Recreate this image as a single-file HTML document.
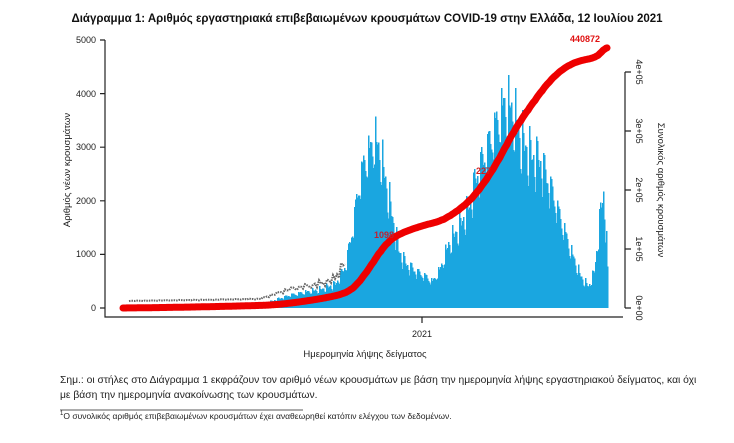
<!DOCTYPE html>
<html><head><meta charset="utf-8"><style>
body{margin:0;background:#fff;width:734px;height:443px;overflow:hidden;font-family:"Liberation Sans",sans-serif}
svg{position:absolute;left:0;top:0}
.t{position:absolute;color:#222;white-space:nowrap}
</style></head><body>
<svg width="734" height="443" id="s" xmlns="http://www.w3.org/2000/svg">
<text x="367" y="22" text-anchor="middle" font-size="11.5" font-weight="bold" fill="#111">Διάγραμμα 1: Αριθμός εργαστηριακά επιβεβαιωμένων κρουσμάτων COVID-19 στην Ελλάδα, 12 Ιουλίου 2021</text>
<g id="bars" fill="#1aa6e0" shape-rendering="crispEdges"></g>
<polyline id="gray" fill="none" stroke="#666" stroke-width="2" stroke-dasharray="1.5 1"/>
<polyline id="cum" fill="none" stroke="#ee0000" stroke-width="7" stroke-linecap="round" stroke-linejoin="round"/>
<g stroke="#222" stroke-width="1.2" fill="none">
<path d="M105 40V317H623"/>
<path d="M100 40H105M100 93.6H105M100 147.2H105M100 200.8H105M100 254.4H105M100 308H105"/>
<path d="M422 317V323"/>
<path d="M625 72V308M625 72H631M625 131H631M625 190H631M625 249H631M625 308H631"/>
</g>
<g font-size="9" fill="#222" text-anchor="end">
<text x="96" y="43">5000</text><text x="96" y="97">4000</text><text x="96" y="150">3000</text><text x="96" y="204">2000</text><text x="96" y="257">1000</text><text x="96" y="311">0</text>
</g>
<g font-size="9" fill="#222" text-anchor="middle">
<text transform="translate(636,72) rotate(90)">4e+05</text>
<text transform="translate(636,131) rotate(90)">3e+05</text>
<text transform="translate(636,190) rotate(90)">2e+05</text>
<text transform="translate(636,249) rotate(90)">1e+05</text>
<text transform="translate(636,308) rotate(90)">0e+00</text>
<text transform="translate(658,190) rotate(90)" font-size="9.5">Συνολικός αριθμός κρουσμάτων</text>
<text transform="translate(70,170) rotate(-90)" font-size="9.5">Αριθμός νέων κρουσμάτων</text>
<text x="422" y="337" font-size="9">2021</text>
<text x="365" y="357" font-size="9.5">Ημερομηνία λήψης δείγματος</text>
</g>
<g font-size="9" font-weight="bold" fill="#e01010">
<text x="570" y="42">440872</text>
<text x="476" y="174" fill="#d02020">227</text>
<text x="374" y="238" fill="#c02030">1098</text>
</g>
<line x1="60" y1="410" x2="303" y2="410" stroke="#222" stroke-width="0.8"/>
</svg>
<div class="t" style="left:60px;top:375px;font-size:10.3px">Σημ.: οι στήλες στο Διάγραμμα 1 εκφράζουν τον αριθμό νέων κρουσμάτων με βάση την ημερομηνία λήψης εργαστηριακού δείγματος, και όχι</div>
<div class="t" style="left:60px;top:390px;font-size:10.3px">με βάση την ημερομηνία ανακοίνωσης των κρουσμάτων.</div>
<div class="t" style="left:60px;top:411px;font-size:8.5px"><sup style="font-size:6px">1</sup>Ο συνολικός αριθμός επιβεβαιωμένων κρουσμάτων έχει αναθεωρηθεί κατόπιν ελέγχου των δεδομένων.</div>
<script>
var k=[[123,20],[200,40],[260,60],[290,250],[320,350],[335,450],[345,800],[352,1500],[358,2300],[364,2800],[370,3000],[374,3200],[380,2900],[386,2300],[392,1700],[398,1100],[405,850],[415,700],[425,600],[432,500],[440,750],[448,1200],[458,1500],[468,1900],[476,2500],[486,3000],[496,3500],[505,3900],[512,3700],[520,3200],[530,2900],[540,2800],[550,2300],[560,1700],[570,1100],[580,600],[588,400],[594,700],[600,1800],[603,2200],[606,1300],[607,700]];
function f(x){for(var i=1;i<k.length;i++)if(x<=k[i][0]){var a=k[i-1],b=k[i];return a[1]+(b[1]-a[1])*(x-a[0])/(b[0]-a[0]);}return 700;}
var g=document.getElementById('bars'),h='',vals=[],n=0,cum=0,pts=[],gp=[];
var dw=[1.12,1.05,1.0,0.98,0.95,0.85,0.8];
for(var x=123;x<=607;x+=1){var v=f(x)*dw[n%7]*(1+0.05*Math.sin(x*1.7));vals.push(v);n++;}
var tot=vals.reduce(function(a,b){return a+b},0),sc=440872/tot;
for(var i=0;i<vals.length;i++){var x=123+i,v=vals[i];var hh=v*0.0536;h+='<rect x="'+x+'" y="'+(308-hh).toFixed(1)+'" width="1.6" height="'+hh.toFixed(1)+'"/>';cum+=v*sc;pts.push(x+','+(308-cum*0.00059).toFixed(1));
if(x>=128&&x<=345&&i%2==0)gp.push(x+','+(308-hh-6).toFixed(1));}
g.innerHTML=h;document.getElementById('cum').setAttribute('points',pts.join(' '));
document.getElementById('gray').setAttribute('points',gp.join(' '));
</script>
</body></html>
